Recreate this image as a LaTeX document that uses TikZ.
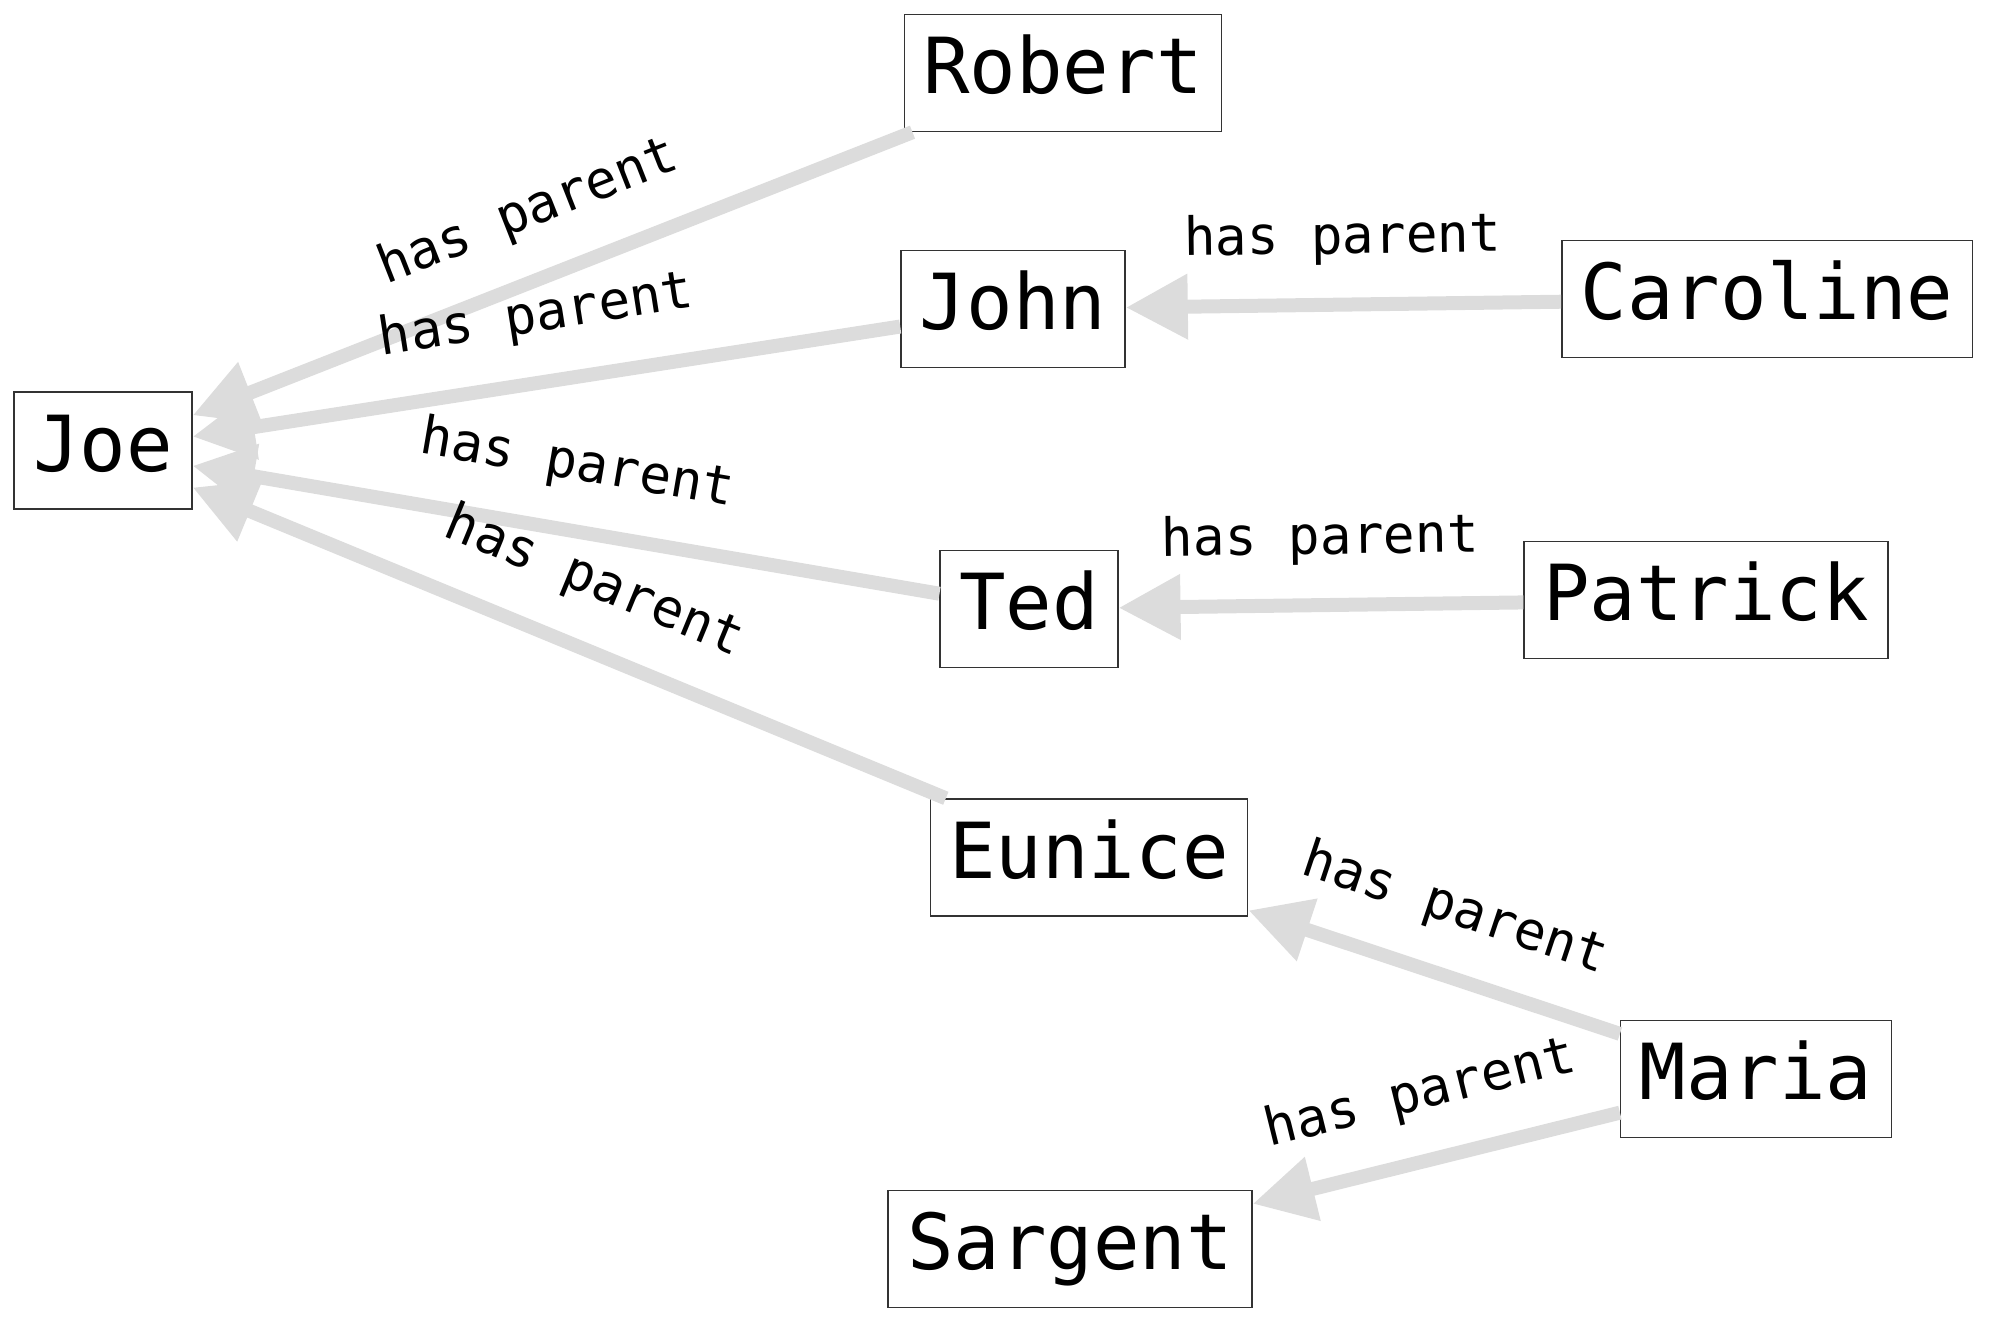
\documentclass[tikz,border=0pt]{standalone}
\usepackage{fontspec}
\setmonofont{DejaVu Sans Mono}
\usepackage{tikz}
\usetikzlibrary{arrows.meta}
\definecolor{edgegray}{RGB}{220,220,220}

\begin{document}
\begin{tikzpicture}[
  person/.style={draw=black!80, line width=0.4pt, minimum height=1.17cm, inner xsep=0.19cm,
                 text height=0.58cm, text depth=0.17cm,
                 font=\ttfamily\fontsize{22}{26}\selectfont},
  parent/.style={draw=edgegray, line width=0.14cm,
                 {Triangle[length=0.62cm, width=0.62cm]}-},
  lbl/.style={sloped, above=0.33cm, inner sep=0pt, text=black,
              font=\ttfamily\fontsize{15}{18}\selectfont}
]
\useasboundingbox (0,0) rectangle (20,-13.28);

\node (Joe)      [person] at (1.03,-4.505)  {Joe};
\node (Robert)   [person] at (10.63,-0.73)  {Robert};
\node (John)     [person] at (10.13,-3.09)  {John};
\node (Caroline) [person] at (17.67,-2.99)  {Caroline};
\node (Ted)      [person] at (10.29,-6.09)  {Ted};
\node (Patrick)  [person] at (17.06,-6.00)  {Patrick};
\node (Eunice)   [person] at (10.89,-8.575) {Eunice};
\node (Maria)    [person] at (17.56,-10.79) {Maria};
\node (Sargent)  [person] at (10.70,-12.49) {Sargent};

\draw[parent] (Joe) -- (Robert) node[lbl, midway] {has parent};
\draw[parent] (Joe) -- (John) node[lbl, midway] {has parent};
\draw[parent] (Joe) -- (Ted) node[lbl, midway] {has parent};
\draw[parent] (Joe) -- (Eunice) node[lbl, midway] {has parent};
\draw[parent] (John) -- (Caroline) node[lbl, midway] {has parent};
\draw[parent] (Ted) -- (Patrick) node[lbl, midway] {has parent};
\draw[parent] (Eunice) -- (Maria) node[lbl, midway] {has parent};
\draw[parent] (Sargent) -- (Maria) node[lbl, midway] {has parent};
\end{tikzpicture}
\end{document}
